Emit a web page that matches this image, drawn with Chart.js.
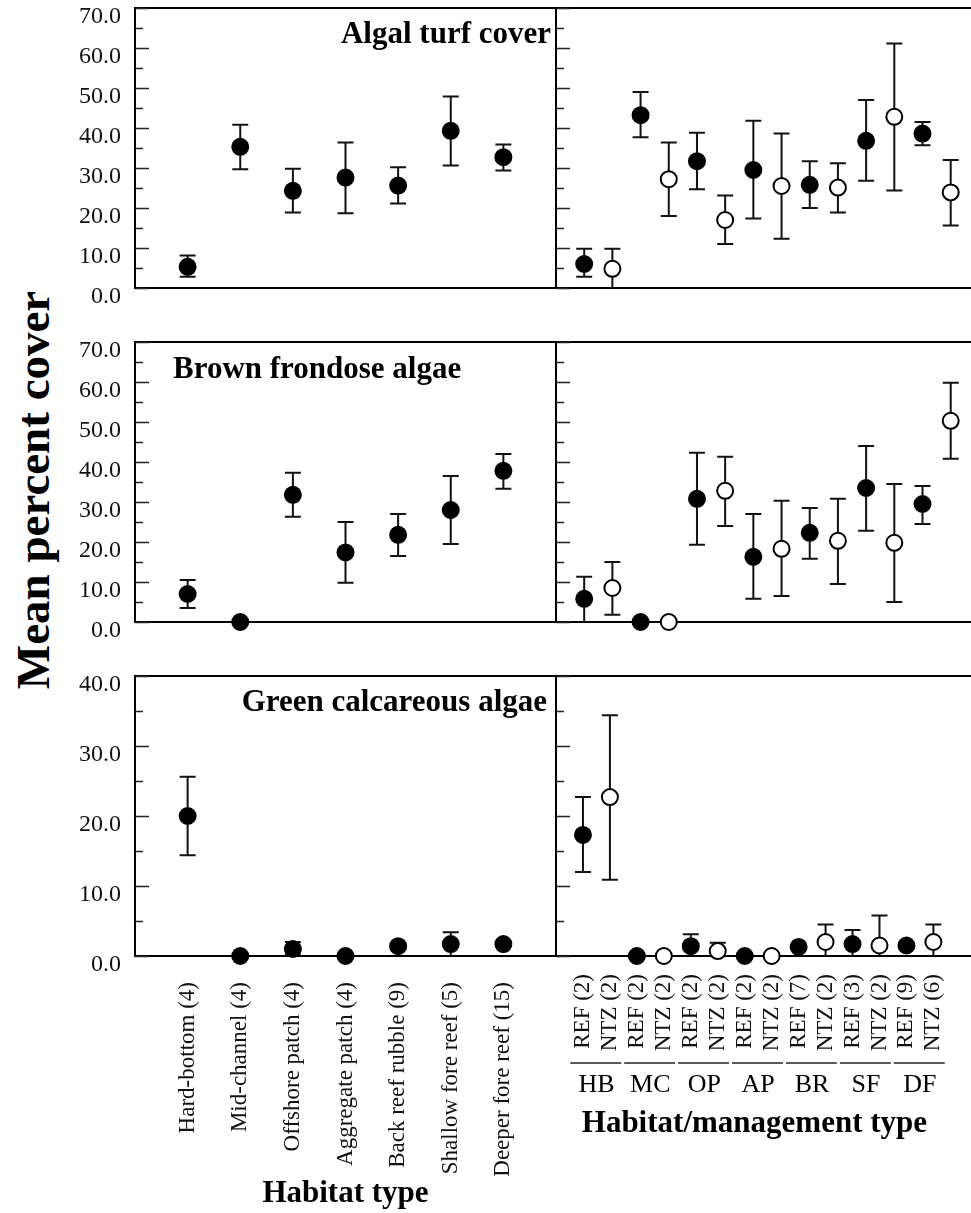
<!DOCTYPE html>
<html>
<head>
<meta charset="utf-8">
<script src="https://cdn.jsdelivr.net/npm/chart.js@4.4.1/dist/chart.umd.min.js"></script>
<style>
  html, body { margin: 0; padding: 0; background: #fff; }
  body { width: 971px; height: 1213px; position: relative; overflow: hidden; }
  canvas { position: absolute; }
  #ytitle {
    position: absolute; left: 33px; top: 490px;
    transform: translate(-50%, -50%) rotate(-90deg);
    font: bold 47px "Liberation Serif", "Times New Roman", serif;
    white-space: nowrap; color: #000;
  }
</style>
</head>
<body>
<div id="ytitle">Mean percent cover</div>
<canvas id="turfHabChart" width="560" height="310" style="left:0;top:0"></canvas>
<canvas id="turfMgmtChart" width="423" height="310" style="left:548px;top:0"></canvas>
<canvas id="brownHabChart" width="560" height="318" style="left:0;top:326px"></canvas>
<canvas id="brownMgmtChart" width="423" height="318" style="left:548px;top:326px"></canvas>
<canvas id="greenHabChart" width="560" height="553" style="left:0;top:660px"></canvas>
<canvas id="greenMgmtChart" width="423" height="553" style="left:548px;top:660px"></canvas>
<script>
// categories
const habitats = ["Hard-bottom (4)", "Mid-channel (4)", "Offshore patch (4)", "Aggregate patch (4)",
  "Back reef rubble (9)", "Shallow fore reef (5)", "Deeper fore reef (15)"];
const habitatCodes = ["HB", "MC", "OP", "AP", "BR", "SF", "DF"];
const mgmtLabels = ["REF (2)", "NTZ (2)", "REF (2)", "NTZ (2)", "REF (2)", "NTZ (2)", "REF (2)",
  "NTZ (2)", "REF (7)", "NTZ (2)", "REF (3)", "NTZ (2)", "REF (9)", "NTZ (6)"];

// y ticks
const coverTicks = [0, 10, 20, 30, 40, 50, 60, 70];
const coverMinor = [5, 15, 25, 35, 45, 55, 65];
const greenTicks = [0, 10, 20, 30, 40];
const greenMinor = [5, 15, 25, 35];

// Algal turf cover (mean, lower, upper)
const turfHab = [5.3, 35.3, 24.3, 27.6, 25.6, 39.3, 32.7];
const turfHabLo = [2.8, 29.7, 18.9, 18.7, 21.1, 30.6, 29.4];
const turfHabHi = [8.1, 40.8, 29.8, 36.4, 30.2, 47.9, 35.9];
// REF/NTZ pairs in habitat order
const turfMgmt = [6.0, 4.8, 43.2, 27.2, 31.7, 17.0, 29.5, 25.5, 25.8, 25.1, 36.8, 42.8, 38.6, 23.9];
const turfMgmtLo = [2.8, 0, 37.7, 18.0, 24.7, 11.0, 17.4, 12.3, 20.0, 18.9, 26.8, 24.4, 35.7, 15.6];
const turfMgmtHi = [9.8, 9.8, 49.0, 36.4, 38.8, 23.1, 41.8, 38.6, 31.7, 31.2, 47.0, 61.1, 41.5, 32.0];

// Brown frondose algae
const brownHab = [7.0, 0, 31.8, 17.4, 21.8, 28.0, 37.8];
const brownHabLo = [3.5, 0, 26.3, 9.8, 16.5, 19.5, 33.3];
const brownHabHi = [10.5, 0, 37.3, 25.0, 27.0, 36.5, 42.0];
const brownMgmt = [5.8, 8.5, 0, 0, 30.8, 32.8, 16.3, 18.3, 22.3, 20.3, 33.5, 19.8, 29.5, 50.3];
const brownMgmtLo = [0, 1.8, 0, 0, 19.3, 24.0, 5.8, 6.5, 15.8, 9.5, 22.8, 5.0, 24.5, 40.8];
const brownMgmtHi = [11.3, 15.0, 0, 0, 42.3, 41.3, 27.0, 30.3, 28.5, 30.8, 44.0, 34.5, 34.0, 59.8];

// Green calcareous algae
const greenHab = [20.0, 0, 1.0, 0, 1.4, 1.7, 1.7];
const greenHabLo = [14.4, 0, 0.2, 0, 1.0, 0, 1.4];
const greenHabHi = [25.6, 0, 2.0, 0, 1.8, 3.4, 2.0];
const greenMgmt = [17.3, 22.7, 0, 0, 1.4, 0.7, 0, 0, 1.3, 2.0, 1.7, 1.5, 1.5, 2.0];
const greenMgmtLo = [12.0, 10.9, 0, 0, 0, 0, 0, 0, 1.0, 0, 0, 0, 1.1, 0];
const greenMgmtHi = [22.7, 34.4, 0, 0, 3.1, 1.9, 0, 0, 1.6, 4.5, 3.7, 5.8, 1.9, 4.5];

const SERIF = '"Liberation Serif", "Times New Roman", serif';

function pointSet(vals, lo, hi, keep, filled) {
  const ds = { data: [], errLo: [], errHi: [] };
  vals.forEach((v, i) => {
    if (!keep(i)) return;
    ds.data.push({ x: i + 1, y: v });
    ds.errLo.push(lo[i]);
    ds.errHi.push(hi[i]);
  });
  return Object.assign(ds, {
    pointRadius: 8,
    pointHoverRadius: 8,
    pointBackgroundColor: filled ? "#000" : "#fff",
    pointBorderColor: "#000",
    pointBorderWidth: 2,
    showLine: false,
    clip: false,
  });
}

// frame, inward ticks, y labels, error bars, panel title, group labels
function panelPlugin(cfg) {
  return {
    id: "panel",
    beforeDatasetsDraw(chart) {
      const { ctx, chartArea: a, scales: { x, y } } = chart;
      ctx.save();
      ctx.strokeStyle = "#000";
      ctx.lineWidth = 2;
      ctx.beginPath();
      if (cfg.closed) {
        ctx.rect(a.left, a.top, a.right - a.left, a.bottom - a.top);
      } else {
        ctx.moveTo(chart.width, a.top);
        ctx.lineTo(a.left, a.top);
        ctx.lineTo(a.left, a.bottom);
        ctx.lineTo(chart.width, a.bottom);
      }
      ctx.stroke();

      ctx.lineWidth = 1.5;
      ctx.strokeStyle = "#222";
      ctx.beginPath();
      cfg.major.forEach(v => {
        const py = Math.round(y.getPixelForValue(v)) + 0.5;
        ctx.moveTo(a.left, py);
        ctx.lineTo(a.left + 14, py);
      });
      cfg.minor.forEach(v => {
        const py = Math.round(y.getPixelForValue(v)) + 0.5;
        ctx.moveTo(a.left, py);
        ctx.lineTo(a.left + 8, py);
      });
      ctx.stroke();

      if (cfg.yLabels) {
        ctx.fillStyle = "#111";
        ctx.font = "24px " + SERIF;
        ctx.textAlign = "right";
        ctx.textBaseline = "middle";
        cfg.major.forEach(v => {
          ctx.fillText(v.toFixed(1), a.left - 14, y.getPixelForValue(v) + 9);
        });
      }

      ctx.lineWidth = 2;
      ctx.strokeStyle = "#111";
      ctx.beginPath();
      chart.data.datasets.forEach(ds => {
        ds.data.forEach((p, i) => {
          const px = x.getPixelForValue(p.x);
          const top = y.getPixelForValue(ds.errHi[i]);
          const bot = y.getPixelForValue(ds.errLo[i]);
          if (Math.abs(top - bot) < 0.5) return;
          ctx.moveTo(px, top); ctx.lineTo(px, bot);
          ctx.moveTo(px - 8, top); ctx.lineTo(px + 8, top);
          if (ds.errLo[i] > 0) { ctx.moveTo(px - 8, bot); ctx.lineTo(px + 8, bot); }
        });
      });
      ctx.stroke();

      if (cfg.title) {
        ctx.fillStyle = "#000";
        ctx.font = "bold 31px " + SERIF;
        ctx.textBaseline = "alphabetic";
        ctx.textAlign = cfg.title.align;
        const tx = cfg.title.align === "right" ? a.right - cfg.title.dx : a.left + cfg.title.dx;
        ctx.fillText(cfg.title.text, tx, a.top + cfg.title.dy);
      }
      ctx.restore();
    },
    afterDraw(chart) {
      if (!cfg.groups) return;
      const { ctx, chartArea: a, scales: { x } } = chart;
      ctx.save();
      ctx.strokeStyle = "#222";
      ctx.lineWidth = 1.3;
      ctx.fillStyle = "#000";
      ctx.font = "26px " + SERIF;
      ctx.textAlign = "center";
      ctx.textBaseline = "middle";
      cfg.groups.forEach((code, k) => {
        const x0 = x.getPixelForValue(2 * k + 1 - 0.47);
        const x1 = x.getPixelForValue(2 * k + 2 + 0.42);
        ctx.beginPath();
        ctx.moveTo(x0, a.bottom + 107);
        ctx.lineTo(x1, a.bottom + 107);
        ctx.stroke();
        ctx.fillText(code, x.getPixelForValue(2 * k + 1.5), a.bottom + 129);
      });
      ctx.restore();
    },
  };
}

function makeChart(id, opts) {
  const left = opts.side === "left";
  const xAxis = {
    type: "linear",
    min: 0,
    max: left ? 8 : 14.72,
    display: !!opts.xLabels,
    grid: { display: false },
    border: { display: false },
    ticks: {
      autoSkip: false,
      minRotation: 90,
      maxRotation: 90,
      padding: left ? 18 : 10,
      color: "#111",
      font: { family: SERIF, size: 23 },
      callback: (v, i) => opts.xLabels ? opts.xLabels[i] : "",
    },
    afterBuildTicks: axis => {
      if (opts.xLabels) axis.ticks = opts.xLabels.map((_, i) => ({ value: i + 1 }));
    },
    afterFit: s => { if (opts.xLabels) s.height = 257; },
    title: {
      display: !!opts.xTitle,
      text: opts.xTitle || "",
      color: "#000",
      font: { family: SERIF, size: 31, weight: "bold" },
      padding: { top: 0, bottom: opts.xTitlePad || 0 },
    },
  };
  const yAxis = {
    type: "linear",
    min: 0,
    max: opts.yMax,
    display: false,
  };
  return new Chart(document.getElementById(id), {
    type: "scatter",
    data: { datasets: opts.datasets },
    options: {
      responsive: false,
      animation: false,
      events: [],
      layout: { padding: opts.padding, autoPadding: false },
      plugins: { legend: { display: false }, tooltip: { enabled: false } },
      scales: { x: xAxis, y: yAxis },
    },
    plugins: [panelPlugin({
      closed: left,
      yLabels: left,
      major: opts.major,
      minor: opts.minor,
      title: opts.title,
      groups: opts.groups,
    })],
  });
}

const all = () => true;
const isRef = i => i % 2 === 0;
const isNtz = i => i % 2 === 1;

makeChart("turfHabChart", {
  side: "left", yMax: 70, major: coverTicks, minor: coverMinor,
  padding: { top: 8, bottom: 22, left: 135, right: 4 },
  title: { text: "Algal turf cover", align: "right", dx: 5, dy: 35 },
  datasets: [pointSet(turfHab, turfHabLo, turfHabHi, all, true)],
});
makeChart("turfMgmtChart", {
  side: "right", yMax: 70, major: coverTicks, minor: coverMinor,
  padding: { top: 8, bottom: 22, left: 8, right: 0 },
  datasets: [pointSet(turfMgmt, turfMgmtLo, turfMgmtHi, isRef, true),
             pointSet(turfMgmt, turfMgmtLo, turfMgmtHi, isNtz, false)],
});
makeChart("brownHabChart", {
  side: "left", yMax: 70, major: coverTicks, minor: coverMinor,
  padding: { top: 16, bottom: 22, left: 135, right: 4 },
  title: { text: "Brown frondose algae", align: "left", dx: 38, dy: 36 },
  datasets: [pointSet(brownHab, brownHabLo, brownHabHi, all, true)],
});
makeChart("brownMgmtChart", {
  side: "right", yMax: 70, major: coverTicks, minor: coverMinor,
  padding: { top: 16, bottom: 22, left: 8, right: 0 },
  datasets: [pointSet(brownMgmt, brownMgmtLo, brownMgmtHi, isRef, true),
             pointSet(brownMgmt, brownMgmtLo, brownMgmtHi, isNtz, false)],
});
makeChart("greenHabChart", {
  side: "left", yMax: 40, major: greenTicks, minor: greenMinor,
  padding: { top: 16, bottom: 0, left: 135, right: 4 },
  title: { text: "Green calcareous algae", align: "right", dx: 9, dy: 35 },
  xLabels: habitats, xTitle: "Habitat type", xTitlePad: 0,
  datasets: [pointSet(greenHab, greenHabLo, greenHabHi, all, true)],
});
makeChart("greenMgmtChart", {
  side: "right", yMax: 40, major: greenTicks, minor: greenMinor,
  padding: { top: 16, bottom: 0, left: 8, right: 0 },
  xLabels: mgmtLabels, xTitle: "Habitat/management type", xTitlePad: 70,
  groups: habitatCodes,
  datasets: [pointSet(greenMgmt, greenMgmtLo, greenMgmtHi, isRef, true),
             pointSet(greenMgmt, greenMgmtLo, greenMgmtHi, isNtz, false)],
});
</script>
</body>
</html>
